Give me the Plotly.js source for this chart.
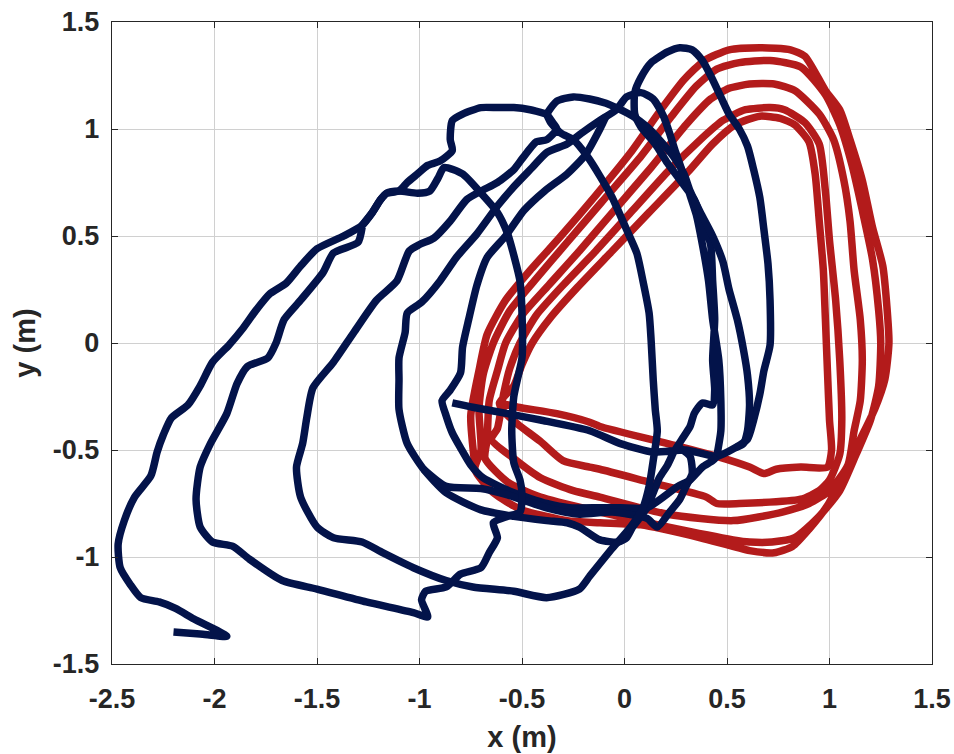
<!DOCTYPE html>
<html>
<head>
<meta charset="utf-8">
<script src="https://cdn.plot.ly/plotly-3.0.1.min.js"></script>
<style>
  html, body { margin: 0; padding: 0; background: #ffffff; }
  #chart { width: 954px; height: 754px; }
</style>
</head>
<body>
<div id="chart"></div>
<script>
// ---- Red trajectory (five laps), in metres ----
const red1X = [-0.73,-0.75,-0.71,-0.67,-0.58,-0.46,-0.31,-0.14,0.03,0.17,0.29,0.39,0.51,0.66,0.81,0.88,0.98,1.05,1.10,1.16,1.21,1.26,1.28,1.29,1.27,1.22,1.15,1.07,0.99,0.90,0.82,0.73,0.61,0.37,0.08,-0.12,-0.28,-0.50,-0.64,-0.73];
const red1Y = [-0.57,-0.34,-0.13,0.04,0.20,0.34,0.50,0.69,0.89,1.08,1.23,1.32,1.37,1.38,1.37,1.34,1.18,1.09,0.95,0.76,0.54,0.36,0.17,0.00,-0.17,-0.31,-0.45,-0.61,-0.76,-0.87,-0.95,-0.98,-0.97,-0.91,-0.85,-0.84,-0.83,-0.78,-0.70,-0.59];
const red2X = [-0.70,-0.71,-0.69,-0.64,-0.56,-0.44,-0.28,-0.11,0.07,0.23,0.35,0.45,0.56,0.71,0.86,0.98,1.05,1.11,1.16,1.21,1.24,1.25,1.24,1.20,1.13,1.05,0.94,0.83,0.72,0.61,0.53,0.21,-0.12,-0.41,-0.57,-0.68];
const red2Y = [-0.50,-0.31,-0.15,0.00,0.15,0.29,0.47,0.66,0.86,1.06,1.20,1.28,1.31,1.32,1.29,1.16,1.02,0.83,0.62,0.39,0.15,0.00,-0.20,-0.36,-0.52,-0.69,-0.82,-0.91,-0.93,-0.93,-0.92,-0.86,-0.79,-0.72,-0.65,-0.54];
const red3X = [-0.67,-0.66,-0.62,-0.58,-0.50,-0.37,-0.22,-0.05,0.13,0.30,0.42,0.51,0.61,0.73,0.83,0.95,1.02,1.07,1.10,1.12,1.15,1.16,1.15,1.12,1.09,1.00,0.90,0.77,0.53,0.21,-0.12,-0.25,-0.41,-0.54,-0.65];
const red3Y = [-0.45,-0.27,-0.13,0.00,0.13,0.27,0.43,0.62,0.82,1.02,1.14,1.19,1.21,1.21,1.18,1.07,0.95,0.76,0.57,0.34,0.11,-0.08,-0.27,-0.41,-0.57,-0.69,-0.75,-0.79,-0.83,-0.80,-0.72,-0.69,-0.63,-0.54,-0.45];
const red4X = [-0.62,-0.59,-0.56,-0.51,-0.43,-0.30,-0.14,0.04,0.21,0.37,0.48,0.59,0.71,0.78,0.88,0.95,0.98,1.00,1.03,1.05,1.06,1.05,1.00,0.95,0.86,0.56,0.45,0.40,0.12,-0.12,-0.17,-0.30,-0.41,-0.52,-0.59];
const red4Y = [-0.40,-0.24,-0.12,0.00,0.13,0.27,0.43,0.62,0.80,0.95,1.04,1.09,1.10,1.09,1.03,0.93,0.71,0.48,0.20,-0.08,-0.36,-0.52,-0.64,-0.69,-0.73,-0.75,-0.75,-0.72,-0.65,-0.59,-0.58,-0.55,-0.46,-0.38,-0.32];
const red5X = [-0.61,-0.54,-0.50,-0.45,-0.36,-0.23,-0.06,0.12,0.31,0.43,0.54,0.66,0.76,0.83,0.90,0.93,0.95,0.97,0.98,0.99,1.00,1.01,0.99,0.86,0.74,0.68,0.61,0.45,0.21,-0.12,-0.17,-0.33,-0.52,-0.61];
const red5Y = [-0.28,-0.20,-0.10,0.00,0.12,0.26,0.43,0.61,0.80,0.93,1.02,1.06,1.05,1.02,0.94,0.79,0.57,0.34,0.11,-0.13,-0.36,-0.50,-0.58,-0.58,-0.59,-0.61,-0.58,-0.53,-0.47,-0.39,-0.37,-0.33,-0.30,-0.28];

// ---- Navy trajectory pieces, in metres ----
const navyAX = [-0.84,-0.74,-0.57,-0.41,-0.17,-0.02,0.14,0.30,0.45,0.54,0.60,0.63,0.66,0.68,0.71,0.71,0.70,0.68,0.66,0.63,0.60,0.56,0.51,0.47,0.42,0.38,0.33,0.27,0.21,0.13,0.08,0.05,0.05,0.08,0.15,0.21,0.28,0.34,0.38,0.42,0.43,0.44,0.43,0.44,0.43,0.38,0.34,0.32,0.28,0.24,0.21,0.17,0.14,0.11,0.08,0.04,0.01,-0.03,-0.12,-0.22,-0.28,-0.38,-0.54,-0.70,-0.87,-0.98,-1.06,-1.10,-1.10,-1.10,-1.07,-1.06,-0.99,-0.90,-0.82,-0.72,-0.62,-0.54,-0.45,-0.38,-0.28,-0.21,-0.12,-0.04,0.01,0.08,0.14,0.19,0.22,0.25,0.29,0.32,0.35,0.38,0.41,0.43,0.46,0.47,0.47,0.45];
const navyAY = [-0.28,-0.30,-0.33,-0.36,-0.41,-0.47,-0.51,-0.50,-0.53,-0.49,-0.45,-0.36,-0.24,-0.13,-0.01,0.20,0.37,0.53,0.68,0.81,0.92,1.00,1.07,1.15,1.25,1.32,1.37,1.38,1.36,1.31,1.24,1.17,1.07,1.01,0.93,0.84,0.75,0.67,0.57,0.46,0.29,0.11,-0.08,-0.22,-0.29,-0.28,-0.33,-0.39,-0.45,-0.51,-0.57,-0.63,-0.70,-0.77,-0.81,-0.86,-0.91,-0.93,-0.92,-0.86,-0.84,-0.83,-0.81,-0.78,-0.70,-0.59,-0.47,-0.31,-0.17,-0.07,0.05,0.14,0.19,0.29,0.40,0.51,0.64,0.73,0.82,0.89,0.93,0.98,1.04,1.09,1.15,1.17,1.14,1.06,0.98,0.89,0.78,0.69,0.60,0.46,0.29,0.11,-0.08,-0.27,-0.41,-0.53];
const navyBX = [-0.38,-0.33,-0.25,-0.17,-0.09,-0.02,0.04,0.11,0.17,0.24,0.29,0.32,0.37,0.43,0.48,0.51,0.55,0.58,0.60,0.61,0.60,0.58,0.54];
const navyBY = [1.07,1.13,1.15,1.14,1.12,1.09,1.06,1.01,0.95,0.87,0.79,0.71,0.61,0.50,0.38,0.25,0.11,-0.03,-0.15,-0.29,-0.41,-0.47,-0.49];
const navyCX = [-0.09,-0.12,-0.19,-0.28,-0.39,-0.49,-0.58,-0.67,-0.72,-0.76,-0.79,-0.80,-0.85,-0.89,-0.87,-0.84,-0.80,-0.75,-0.69,-0.54,-0.38,-0.27,-0.12,-0.02,0.11,0.26,0.32,0.38,0.43,0.45];
const navyCY = [1.06,1.00,0.88,0.79,0.71,0.62,0.50,0.40,0.27,0.11,-0.02,-0.14,-0.22,-0.27,-0.34,-0.42,-0.49,-0.57,-0.63,-0.70,-0.75,-0.77,-0.77,-0.77,-0.77,-0.67,-0.64,-0.58,-0.55,-0.53];
const navyDX = [-0.98,-0.87,-0.70,-0.57,-0.38,-0.22,-0.06,0.11,0.16,0.22,0.27,0.30,0.33,0.32,0.27];
const navyDY = [-0.59,-0.67,-0.68,-0.71,-0.77,-0.80,-0.79,-0.82,-0.86,-0.79,-0.73,-0.67,-0.61,-0.53,-0.49];
const navyEX = [-0.38,-0.35,-0.33,-0.38,-0.43,-0.50,-0.54,-0.62,-0.70,-0.77,-0.85,-0.93,-1.00,-1.05,-1.11,-1.21,-1.32,-1.42,-1.52,-1.55,-1.57,-1.60,-1.58,-1.50,-1.42,-1.28,-1.18,-1.03,-0.87,-0.74,-0.54,-0.38,-0.22,-0.17,-0.06,0.03,0.09,0.12,0.14,0.16,0.15,0.14,0.13,0.12,0.09,0.06,0.01,-0.06,-0.12,-0.18,-0.25,-0.31,-0.36,-0.38];
const navyEY = [1.07,1.03,1.00,0.95,0.94,0.86,0.81,0.75,0.71,0.67,0.57,0.49,0.46,0.43,0.29,0.20,0.05,-0.09,-0.21,-0.35,-0.47,-0.58,-0.72,-0.86,-0.91,-0.93,-0.98,-1.05,-1.11,-1.14,-1.16,-1.19,-1.15,-1.09,-0.96,-0.86,-0.77,-0.67,-0.55,-0.41,-0.31,-0.17,0.01,0.14,0.29,0.42,0.53,0.68,0.78,0.87,0.95,0.98,1.03,1.07];
const navyFX = [-0.38,-0.46,-0.54,-0.62,-0.70,-0.79,-0.84,-0.85,-0.84,-0.90,-0.96,-1.01,-1.06,-1.10,-1.16,-1.19,-1.23,-1.28,-1.37,-1.50,-1.58,-1.65,-1.73,-1.80,-1.86,-1.93,-2.01,-2.07,-2.13,-2.21,-2.25,-2.28,-2.31,-2.39,-2.44,-2.47,-2.46,-2.41,-2.36,-2.27,-2.19,-2.10,-1.94,-2.07,-2.20];
const navyFY = [1.07,1.09,1.10,1.10,1.10,1.07,1.04,0.95,0.90,0.85,0.83,0.79,0.75,0.71,0.70,0.67,0.61,0.55,0.50,0.44,0.36,0.28,0.23,0.15,0.07,-0.01,-0.09,-0.20,-0.29,-0.35,-0.43,-0.51,-0.62,-0.72,-0.83,-0.94,-1.05,-1.13,-1.19,-1.21,-1.24,-1.29,-1.37,-1.36,-1.35];
const navyGX = [-1.28,-1.30,-1.42,-1.47,-1.58,-1.66,-1.70,-1.74,-1.84,-1.89,-1.94,-2.02,-2.07,-2.09,-2.07,-2.01,-1.91,-1.83,-1.67,-1.50,-1.26,-1.03,-0.96,-0.99,-0.97,-0.87,-0.80,-0.70,-0.66,-0.62,-0.64,-0.57,-0.51,-0.50,-0.51,-0.54,-0.55,-0.54,-0.52,-0.50,-0.50,-0.51,-0.54,-0.57,-0.62,-0.70,-0.79,-0.88,-0.91,-0.95,-1.01,-1.10,-1.16,-1.19,-1.23,-1.28];
const navyGY = [0.54,0.47,0.42,0.33,0.20,0.11,0.00,-0.07,-0.11,-0.19,-0.33,-0.47,-0.58,-0.73,-0.86,-0.93,-0.95,-1.01,-1.11,-1.15,-1.21,-1.26,-1.28,-1.20,-1.16,-1.14,-1.08,-1.05,-0.98,-0.91,-0.84,-0.81,-0.79,-0.71,-0.64,-0.56,-0.41,-0.25,-0.16,-0.07,0.14,0.29,0.41,0.51,0.61,0.70,0.79,0.82,0.77,0.71,0.70,0.71,0.70,0.67,0.61,0.55];

// ---- Axis ticks ----
const xTickVals = [-2.5,-2,-1.5,-1,-0.5,0,0.5,1,1.5];
const xTickText = ['-2.5','-2','-1.5','-1','-0.5','0','0.5','1','1.5'];
const yTickVals = [-1.5,-1,-0.5,0,0.5,1,1.5];
const yTickText = ['-1.5','-1','-0.5','0','0.5','1','1.5'];

function joinPieces(pieces) {
  const out = [];
  pieces.forEach((p, i) => { if (i > 0) out.push(null); p.forEach(v => out.push(v)); });
  return out;
}

const redX = [].concat(red1X, red2X, red3X, red4X, red5X);
const redY = [].concat(red1Y, red2Y, red3Y, red4Y, red5Y);
const navyX = joinPieces([navyAX, navyBX, navyCX, navyDX, navyEX, navyFX, navyGX]);
const navyY = joinPieces([navyAY, navyBY, navyCY, navyDY, navyEY, navyFY, navyGY]);

const RED = '#b31b1b';
const NAVY = '#03134a';
const TXT = '#262626';

const traces = [
  { x: redX, y: redY, type: 'scatter', mode: 'lines',
    line: { color: RED, width: 7.5, shape: 'spline', smoothing: 0.6 },
    hoverinfo: 'skip', showlegend: false },
  { x: navyX, y: navyY, type: 'scatter', mode: 'lines', connectgaps: false,
    line: { color: NAVY, width: 7.5, shape: 'spline', smoothing: 0.6 },
    hoverinfo: 'skip', showlegend: false }
];

const tickFont = { family: 'Liberation Sans, Arial, sans-serif', size: 27, color: TXT, weight: 700 };
const titleFont = { family: 'Liberation Sans, Arial, sans-serif', size: 29, color: TXT, weight: 700 };

const axisCommon = {
  showgrid: true, gridcolor: '#d0d0d0', gridwidth: 1,
  zeroline: false, showline: true, mirror: 'ticks',
  linecolor: TXT, linewidth: 1.2,
  ticks: 'inside', ticklen: 6, tickwidth: 1, tickcolor: TXT,
  tickfont: tickFont, automargin: false, fixedrange: true
};

const layout = {
  width: 954, height: 754,
  margin: { l: 112, r: 22, t: 22, b: 90, pad: 0 },
  paper_bgcolor: '#ffffff', plot_bgcolor: '#ffffff',
  showlegend: false,
  xaxis: Object.assign({}, axisCommon, {
    range: [-2.5, 1.5], tickmode: 'array', tickvals: xTickVals, ticktext: xTickText,
    ticklabelstandoff: 10,
    title: { text: 'x (m)', font: titleFont, standoff: 14 }
  }),
  yaxis: Object.assign({}, axisCommon, {
    range: [-1.5, 1.5], tickmode: 'array', tickvals: yTickVals, ticktext: yTickText,
    ticklabelstandoff: 6,
    title: { text: 'y (m)', font: titleFont, standoff: 8 }
  })
};

Plotly.newPlot('chart', traces, layout, { staticPlot: true, displayModeBar: false });
</script>
</body>
</html>
